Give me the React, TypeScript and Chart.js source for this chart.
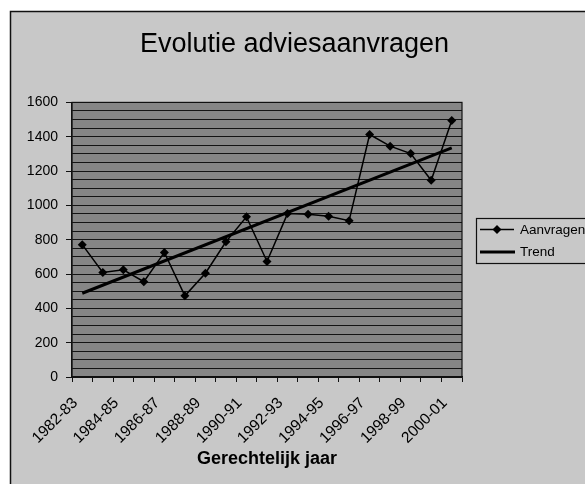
import React, { useEffect, useRef } from 'react';
import { Chart, registerables } from 'chart.js';

Chart.register(...registerables);

const titleText = 'Evolutie adviesaanvragen';
const xAxisTitle = 'Gerechtelijk jaar';
const categories = [
  '1982-83', '1983-84', '1984-85', '1985-86', '1986-87', '1987-88', '1988-89',
  '1989-90', '1990-91', '1991-92', '1992-93', '1993-94', '1994-95', '1995-96',
  '1996-97', '1997-98', '1998-99', '1999-00', '2000-01',
];
const aanvragen = [771, 609, 625, 555, 726, 473, 605, 788, 933, 673, 952, 948, 936, 911, 1413, 1345, 1302, 1146, 1495];
const trendStart = 488;
const trendEnd = 1335;
const yMin = 0;
const yMax = 1600;
const yLabelStep = 200;
const yLineStep = 50;

const W = 589;
const H = 500;
const FONT = 'Liberation Sans, Arial, sans-serif';
const OUTER_BG = '#c8c8c8';
const PLOT_BG = '#868686';

const decorPlugin = {
  id: 'decor',
  beforeDraw(chart: any) {
    const { ctx, chartArea } = chart;
    ctx.save();
    ctx.fillStyle = '#ffffff';
    ctx.fillRect(0, 0, chart.width, chart.height);
    ctx.fillStyle = OUTER_BG;
    ctx.fillRect(10, 11, chart.width + 20, chart.height + 20);
    ctx.strokeStyle = '#111';
    ctx.lineWidth = 1.5;
    ctx.strokeRect(10.5, 11.5, chart.width + 20, chart.height + 20);
    ctx.fillStyle = PLOT_BG;
    ctx.fillRect(chartArea.left, chartArea.top, chartArea.right - chartArea.left, chartArea.bottom - chartArea.top);
    ctx.restore();
  },
  beforeDatasetsDraw(chart: any) {
    const { ctx, chartArea } = chart;
    ctx.save();
    ctx.strokeStyle = '#111';
    ctx.lineWidth = 1.2;
    ctx.strokeRect(chartArea.left, chartArea.top, chartArea.right - chartArea.left, chartArea.bottom - chartArea.top);
    ctx.restore();
  },
  afterDraw(chart: any) {
    const { ctx, chartArea } = chart;
    const ds = chart.data.datasets;
    const lx = chartArea.right + 14;
    const ly = 218;
    const lh = 45;
    ctx.save();
    ctx.fillStyle = OUTER_BG;
    ctx.fillRect(lx, ly, chart.width, lh);
    ctx.strokeStyle = '#111';
    ctx.lineWidth = 1.2;
    ctx.strokeRect(lx + 0.5, ly + 0.5, chart.width, lh);
    const y1 = 229.5;
    ctx.strokeStyle = '#000';
    ctx.lineWidth = 1.5;
    ctx.beginPath();
    ctx.moveTo(lx + 4, y1);
    ctx.lineTo(lx + 38, y1);
    ctx.stroke();
    const cx = lx + 21;
    ctx.fillStyle = '#000';
    ctx.beginPath();
    ctx.moveTo(cx, y1 - 4.5);
    ctx.lineTo(cx + 4.5, y1);
    ctx.lineTo(cx, y1 + 4.5);
    ctx.lineTo(cx - 4.5, y1);
    ctx.closePath();
    ctx.fill();
    const y2 = 252;
    ctx.lineWidth = 3;
    ctx.beginPath();
    ctx.moveTo(lx + 4, y2);
    ctx.lineTo(lx + 39, y2);
    ctx.stroke();
    ctx.fillStyle = '#000';
    ctx.font = '13.5px ' + FONT;
    ctx.textBaseline = 'middle';
    ctx.textAlign = 'left';
    ctx.fillText(ds[0].label, lx + 44, y1 + 0.5);
    ctx.fillText(ds[1].label, lx + 44, y2);
    ctx.restore();
  },
};

export default function App() {
  const ref = useRef<HTMLCanvasElement | null>(null);

  useEffect(() => {
    if (!ref.current) return;
    const chart = new Chart(ref.current, {
      type: 'line',
      data: {
        labels: categories,
        datasets: [
          {
            label: 'Aanvragen',
            data: aanvragen,
            borderColor: '#000',
            borderWidth: 1.5,
            pointStyle: 'rectRot',
            pointRadius: 4.5,
            pointBackgroundColor: '#000',
            pointBorderColor: '#000',
            pointBorderWidth: 0,
            tension: 0,
            fill: false,
          },
          {
            label: 'Trend',
            data: [
              { x: categories[0], y: trendStart },
              { x: categories[categories.length - 1], y: trendEnd },
            ] as any,
            borderColor: '#000',
            borderWidth: 3,
            pointRadius: 0,
            tension: 0,
            fill: false,
          },
        ],
      },
      options: {
        responsive: false,
        animation: false,
        layout: { padding: 0 },
        plugins: {
          legend: { display: false },
          tooltip: { enabled: false },
          title: {
            display: true,
            text: titleText,
            color: '#000',
            font: { family: FONT, size: 27, weight: 'normal' },
            padding: { top: 28, bottom: 42 },
          },
        },
        scales: {
          x: {
            type: 'category',
            offset: true,
            grid: {
              display: true,
              drawOnChartArea: false,
              offset: true,
              tickLength: 5,
              tickColor: '#111',
            },
            border: { display: true, color: '#111', width: 1.2 },
            ticks: {
              autoSkip: false,
              maxRotation: 45,
              minRotation: 45,
              padding: 12,
              labelOffset: -7,
              color: '#000',
              font: { family: FONT, size: 15.5 },
              callback: (_v: any, i: number) => (i % 2 === 0 ? categories[i] : ''),
            },
            title: {
              display: true,
              text: xAxisTitle,
              color: '#000',
              font: { family: FONT, size: 18, weight: 'bold' },
              padding: { top: 0, bottom: 30 },
            },
            afterFit: (s: any) => {
              s.height = H - 377;
            },
          },
          y: {
            type: 'linear',
            min: yMin,
            max: yMax,
            grid: {
              color: '#141414',
              lineWidth: 1,
              tickLength: 6,
              tickColor: (c: any) => (c.tick && c.tick.value % yLabelStep === 0 ? '#111' : 'rgba(0,0,0,0)'),
            },
            border: { display: true, color: '#111', width: 1.2 },
            ticks: {
              stepSize: yLineStep,
              autoSkip: false,
              padding: 8,
              color: '#000',
              font: { family: FONT, size: 14 },
              callback: (v: any) => (Number(v) % yLabelStep === 0 ? String(v) : ''),
            },
            afterFit: (s: any) => {
              s.width = 72;
            },
          },
          spacer: {
            type: 'linear',
            position: 'right',
            display: true,
            grid: { display: false, drawOnChartArea: false },
            border: { display: false },
            ticks: { display: false },
            afterFit: (s: any) => {
              s.width = W - 462;
            },
          },
        },
      },
      plugins: [decorPlugin],
    });
    return () => chart.destroy();
  }, []);

  return (
    <div style={{ position: 'absolute', left: 0, top: 0, width: 585, height: 484, overflow: 'hidden', background: '#fff' }}>
      <canvas ref={ref} width={W} height={H} style={{ display: 'block', width: W, height: H }} />
    </div>
  );
}
